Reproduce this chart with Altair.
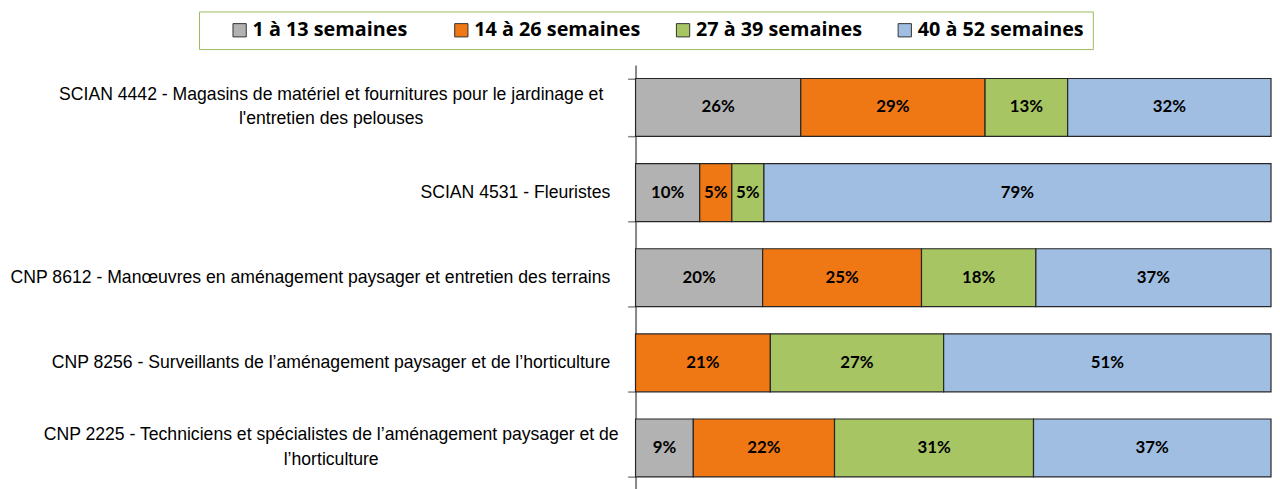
import altair as alt
import pandas as pd

categories = [
    "SCIAN 4442 - Magasins de matériel et fournitures pour le jardinage et|l'entretien des pelouses",
    "SCIAN 4531 - Fleuristes",
    "CNP 8612 - Manœuvres en aménagement paysager et entretien des terrains",
    "CNP 8256 - Surveillants de l’aménagement paysager et de l’horticulture",
    "CNP 2225 - Techniciens et spécialistes de l’aménagement paysager et de|l’horticulture",
]
series = ["1 à 13 semaines", "14 à 26 semaines", "27 à 39 semaines", "40 à 52 semaines"]
v_1_13 = [26, 10, 20, 0, 9]
v_14_26 = [29, 5, 25, 21, 22]
v_27_39 = [13, 5, 18, 27, 31]
v_40_52 = [32, 79, 37, 51, 37]
colors = ["#B2B2B2", "#F07814", "#A7C663", "#A0BEE2"]

rows = []
for i, c in enumerate(categories):
    for j, (s, vals) in enumerate(zip(series, [v_1_13, v_14_26, v_27_39, v_40_52])):
        rows.append({"cat": c, "serie": s, "order": j, "value": vals[i]})
df = pd.DataFrame(rows)

base = alt.Chart(df).transform_stack(
    stack="value", as_=["x0", "x1"], groupby=["cat"],
    sort=[alt.SortField("order")], offset="normalize"
).transform_calculate(
    mid="(datum.x0 + datum.x1) / 2",
    lab="datum.value + '%'"
)

label_style = dict(
    labelFont="Liberation Sans",
    labelFontSize=17.8,
    labelColor="#000000",
    labelLimit=0,
    labelLineHeight=25,
    minExtent=634,
    maxExtent=634,
)

# single-line labels: right aligned next to the axis, with ticks and domain
y_single = alt.Y(
    "cat:N", sort=categories, title=None,
    scale=alt.Scale(paddingInner=0.32, paddingOuter=0.16),
    axis=alt.Axis(
        orient="left",
        labelExpr="indexof(datum.label, '|') >= 0 ? '' : datum.label",
        labelAlign="right",
        labelPadding=18,
        tickSize=8,
        tickColor="#868686",
        tickWidth=1.5,
        tickBand="extent",
        domainColor="#868686",
        domainWidth=2,
        **label_style,
    ),
)

# two-line labels: lines centred on each other
y_multi = alt.Y(
    "cat:N", sort=categories, title=None,
    axis=alt.Axis(
        orient="left",
        labelExpr="indexof(datum.label, '|') >= 0 ? split(datum.label, '|') : ''",
        labelAlign="center",
        labelPadding=308,
        labelOffset=-13,
        ticks=False,
        tickSize=0,
        domain=False,
        **label_style,
    ),
)

bars = base.mark_bar(stroke="#262626", strokeWidth=1.2).encode(
    x=alt.X("x0:Q", scale=alt.Scale(domain=[0, 1], nice=False), axis=None),
    x2="x1:Q",
    y=y_single,
    color=alt.Color(
        "serie:N",
        sort=series,
        scale=alt.Scale(domain=series, range=colors),
        legend=alt.Legend(
            title=" ",
            titleOrient="left",
            titlePadding=22,
            titleFontSize=10,
            orient="none",
            legendX=-441,
            legendY=-54,
            direction="horizontal",
            columns=4,
            gridAlign="all",
            strokeColor="#9BBB59",
            fillColor="#FFFFFF",
            padding=9,
            columnPadding=33,
            labelFont="Open Sans",
            labelFontWeight="bold",
            labelFontSize=20,
            labelColor="#000000",
            labelOffset=3,
            labelLimit=300,
            symbolType="square",
            symbolSize=180,
            symbolStrokeColor="#333333",
            symbolStrokeWidth=1,
            symbolOpacity=1,
        ),
    ),
    order=alt.Order("order:Q"),
)

texts = base.transform_filter("datum.value > 0").mark_text(
    font="Lato", fontWeight="bold", fontSize=17, color="#000000"
).encode(
    x="mid:Q",
    y=y_multi,
    text="lab:N",
)

chart = alt.layer(bars, texts).resolve_axis(y="independent").properties(
    width=642, height=430, padding=0
).configure_view(stroke=None)

chart.save("out.html", embed_options={"renderer": "svg", "actions": False})
